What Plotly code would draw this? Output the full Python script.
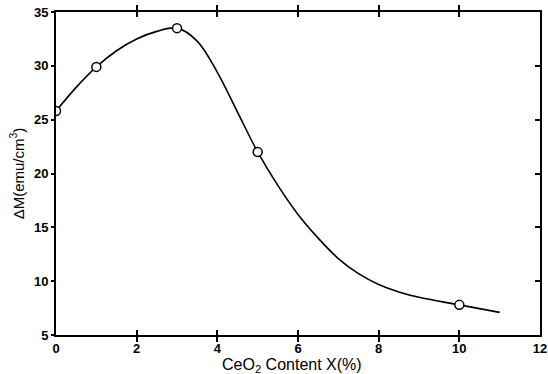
import plotly.graph_objects as go

# measured data points
x_pts = [0, 1, 3, 5, 10]
y_pts = [25.8, 29.9, 33.5, 22.0, 7.8]

# fitted curve
x_curve = [0, 0.5, 1, 1.5, 2, 2.5, 3, 3.5, 4, 4.5, 5, 5.5, 6, 6.5, 7, 7.5, 8, 8.5, 9, 10, 11]
y_curve = [25.8, 28.0, 29.9, 31.4, 32.5, 33.2, 33.5, 32.3, 29.4, 25.7, 22.0, 18.9, 16.2, 14.0, 12.1, 10.7, 9.7, 9.0, 8.5, 7.8, 7.1]

x_ticks = [0, 2, 4, 6, 8, 10, 12]
y_ticks = [5, 10, 15, 20, 25, 30, 35]

FONT = "Liberation Sans, Arial, DejaVu Sans, sans-serif"

fig = go.Figure()
fig.add_trace(go.Scatter(x=x_curve, y=y_curve, mode="lines",
                         line=dict(color="black", width=1.6, shape="spline", smoothing=1.0),
                         hoverinfo="skip"))
fig.add_trace(go.Scatter(x=x_pts, y=y_pts, mode="markers",
                         marker=dict(symbol="circle", size=9, color="white",
                                     line=dict(color="black", width=1.5))))
# invisible trace for right axis
fig.add_trace(go.Scatter(x=[None], y=[None], yaxis="y2", showlegend=False))

font_ticks = dict(family=FONT, size=13, color="black")

fig.update_layout(
    template="none",
    width=548, height=374,
    margin=dict(l=56, r=8, t=12, b=39),
    paper_bgcolor="white", plot_bgcolor="white",
    showlegend=False,
    xaxis=dict(range=[0, 12], tickvals=x_ticks, ticktext=[f"<b>{v}</b>" for v in x_ticks],
               ticks="inside", ticklen=5, tickwidth=2, tickcolor="black",
               showline=True, linecolor="black", linewidth=2, mirror="allticks",
               showgrid=False, zeroline=False, tickfont=font_ticks, automargin=False),
    yaxis=dict(range=[5, 35], tickvals=y_ticks, ticktext=[f"<b>{v}</b>" for v in y_ticks],
               ticks="outside", ticklen=3, tickwidth=2, tickcolor="black",
               showline=True, linecolor="black", linewidth=2,
               showgrid=False, zeroline=False, tickfont=font_ticks, automargin=False,
               title=dict(text="\u0394M(emu/cm<sup>3</sup>)", standoff=6,
                          font=dict(family=FONT, size=15, color="black"))),
    yaxis2=dict(range=[5, 35], overlaying="y", side="right", tickvals=[10, 15, 20, 25, 30],
                showticklabels=False, ticks="inside", ticklen=5, tickwidth=2, tickcolor="black",
                showline=True, linecolor="black", linewidth=2, showgrid=False, zeroline=False,
                automargin=False),
    annotations=[dict(text="CeO<sub>2</sub> Content X(%)", xref="paper", yref="paper",
                      x=0.4886, y=-0.093, xanchor="center", yanchor="middle", showarrow=False,
                      font=dict(family=FONT, size=16, color="black"))],
)

fig.write_html("out.html", config={"displayModeBar": False},
               post_script="document.body.style.margin='0';document.body.style.overflow='hidden';")
